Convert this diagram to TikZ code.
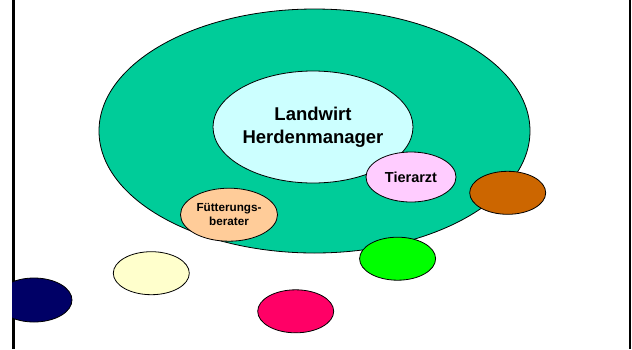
\documentclass[tikz,border=0pt]{standalone}
\usepackage{fontspec}
\setmainfont{Liberation Sans}
\usetikzlibrary{shapes.geometric}

\definecolor{netzgruen}{HTML}{00CC99}
\definecolor{kernblau}{HTML}{CCFFFF}
\definecolor{tierrosa}{HTML}{FFCCFF}
\definecolor{futterorange}{HTML}{FFCC99}
\definecolor{braun}{HTML}{CC6600}
\definecolor{hellgruen}{HTML}{00FF00}
\definecolor{hellgelb}{HTML}{FFFFCC}
\definecolor{himbeer}{HTML}{FF0066}
\definecolor{dunkelblau}{HTML}{000066}

\tikzset{
	blob/.style={ellipse, draw=black, line width=0.8pt, inner sep=0pt,
		align=center, font=\bfseries},
	kleinblob/.style={blob, minimum width=76pt, minimum height=43pt}
}

\begin{document}
\begin{tikzpicture}[x=1pt, y=-1pt]

	\useasboundingbox (0, 0) rectangle (632, 349);

	% Rahmen
	\draw [line width=2.5pt] (13.3, 0) -- (13.3, 349);
	\draw [line width=2.5pt] (630, 0) -- (630, 349);

	% Netzwerk
	\node [blob, fill=netzgruen, minimum width=431pt, minimum height=244pt] (netz) at (314.5, 131) {};
	\node [blob, fill=kernblau, minimum width=200pt, minimum height=112pt,
		font=\bfseries\fontsize{18.5}{23.3}\selectfont] (landwirt) at (313, 127) {Landwirt\\Herdenmanager};
	\node [blob, fill=tierrosa, minimum width=90pt, minimum height=50pt,
		font=\bfseries\fontsize{14.5}{17}\selectfont] (tierarzt) at (411, 177) {Tierarzt};
	\node [blob, fill=futterorange, minimum width=97pt, minimum height=53pt,
		font=\bfseries\fontsize{11.7}{14.3}\selectfont] (berater) at (229, 214.7) {Fütterungs-\\berater};

	% weitere Partner
	\node [kleinblob, fill=braun] (braun) at (507.7, 192.8) {};
	\node [kleinblob, fill=hellgruen] (gruen) at (397.6, 258.7) {};
	\node [kleinblob, fill=hellgelb] (gelb) at (151.3, 273.2) {};
	\node [kleinblob, fill=himbeer] (rot) at (295.7, 311.3) {};
	\begin{scope}
		\clip (12, 0) rectangle (632, 349);
		\node [kleinblob, fill=dunkelblau, minimum height=44pt] (blau) at (34, 300) {};
	\end{scope}

\end{tikzpicture}
\end{document}
